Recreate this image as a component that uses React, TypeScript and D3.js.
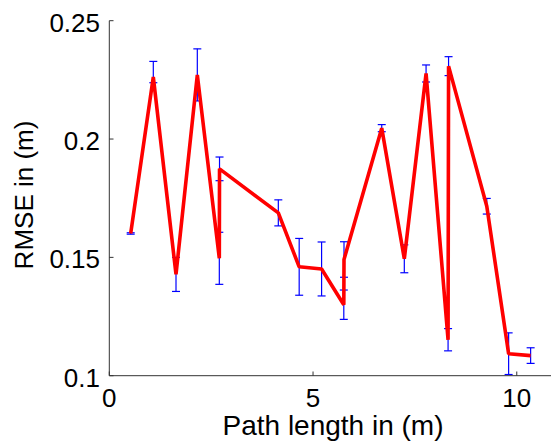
import React from "react";
import * as d3 from "d3";

const pathLength = [0.525, 1.08, 1.637, 2.16, 2.7, 2.705, 4.148, 4.66, 5.21, 5.755, 5.76, 6.686, 7.24, 7.774, 8.314, 8.326, 9.264, 9.8, 10.34];
const rmse = [0.1601, 0.2262, 0.1428, 0.2271, 0.1496, 0.1874, 0.1688, 0.146, 0.1451, 0.13, 0.1491, 0.2046, 0.1494, 0.2277, 0.1152, 0.2308, 0.1716, 0.1093, 0.1085];
const errLow = [0.0003, 0.0024, 0.0072, 0.011, 0.011, 0.005, 0.0055, 0.012, 0.0114, 0.0062, 0.0075, 0.0015, 0.0059, 0.0036, 0.0047, 0.004, 0.0033, 0.0088, 0.0033];
const errHigh = [0.0003, 0.0066, 0.0072, 0.011, 0.011, 0.005, 0.0055, 0.012, 0.0114, 0.0062, 0.0075, 0.0015, 0.0059, 0.0036, 0.0047, 0.004, 0.0033, 0.0088, 0.0033];
const xTicks = [0, 5, 10];
const yTicks = [0.1, 0.15, 0.2, 0.25];
const yTickLabels = ["0.1", "0.15", "0.2", "0.25"];

const W = 551;
const H = 446;

export default function App() {
  const x = d3.scaleLinear().domain([0, 10.84]).range([109.3, 551]);
  const y = d3.scaleLinear().domain([0.1, 0.25]).range([375.7, 20.7]);
  const pts = pathLength.map((px, i) => [px, rmse[i]] as [number, number]);
  const line = d3.line<[number, number]>().x((d) => x(d[0])).y((d) => y(d[1]));
  const font = "'Liberation Sans', Arial, Helvetica, sans-serif";
  const axisColor = "#333";
  const cap = 4;
  const yBottom = y(0.1);
  return (
    <svg width={W} height={H} style={{ position: "absolute", left: 0, top: 0, background: "#fff" }}>
      {/* error bars */}
      <g stroke="#0000ff" strokeWidth={1.2} fill="none">
        {pts.map((d, i) => {
          const cx = x(d[0]);
          const y1 = y(d[1] + errHigh[i]);
          const y0 = Math.min(y(d[1] - errLow[i]), yBottom);
          return (
            <g key={i}>
              <line x1={cx} x2={cx} y1={y1} y2={y0} />
              <line x1={cx - cap} x2={cx + cap} y1={y1} y2={y1} />
              <line x1={cx - cap} x2={cx + cap} y1={y0} y2={y0} />
            </g>
          );
        })}
      </g>
      <path d={line(pts) || ""} fill="none" stroke="#ff0000" strokeWidth={3.6} strokeLinejoin="bevel" />
      {/* axes */}
      <line x1={109.3} x2={109.3} y1={20.7} y2={375.7} stroke={axisColor} strokeWidth={1} />
      <line x1={109.3} x2={551} y1={375.7} y2={375.7} stroke={axisColor} strokeWidth={1} />
      {yTicks.map((t, i) => (
        <g key={"y" + i}>
          <line x1={109.3} x2={113.5} y1={y(t)} y2={y(t)} stroke={axisColor} strokeWidth={1} />
          <text x={100} y={y(t) + 11} textAnchor="end" fontFamily={font} fontSize={26} fill="#000">
            {yTickLabels[i]}
          </text>
        </g>
      ))}
      {xTicks.map((t, i) => (
        <g key={"x" + i}>
          <line x1={x(t)} x2={x(t)} y1={375.7} y2={371.5} stroke={axisColor} strokeWidth={1} />
          <text x={x(t)} y={406.5} textAnchor="middle" fontFamily={font} fontSize={26} fill="#000">
            {String(t)}
          </text>
        </g>
      ))}
      <text x={333} y={435} textAnchor="middle" fontFamily={font} fontSize={28} fill="#000">
        Path length in (m)
      </text>
      <text transform="translate(33,195) rotate(-90)" textAnchor="middle" fontFamily={font} fontSize={26} fill="#000">
        RMSE in (m)
      </text>
    </svg>
  );
}
